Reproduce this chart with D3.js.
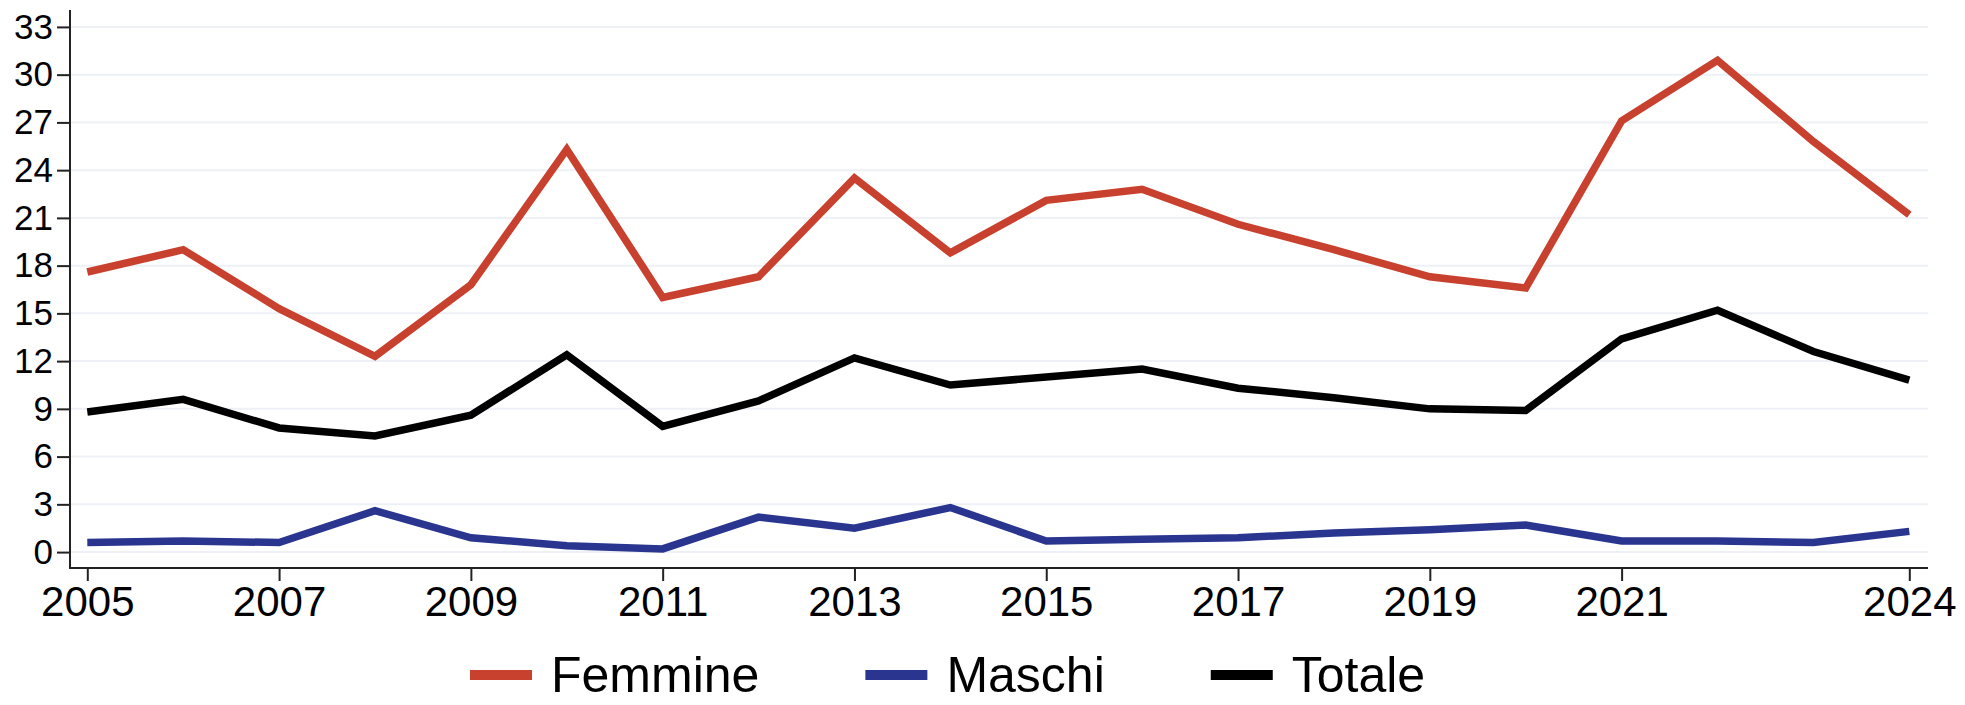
<!DOCTYPE html>
<html lang="it">
<head>
  <meta charset="UTF-8">
  <title>Femmine, Maschi, Totale 2005-2024</title>
  <script src="https://d3js.org/d3.v7.min.js"></script>
  <style>
    body {
      margin: 0;
      background-color: #fff;
    }
    .grid line {
      stroke: #edf1f6;
      stroke-width: 2px;
    }
    .axis text {
      font-family: "Liberation Sans", Arial, sans-serif;
      fill: #000;
    }
    .axis line, .axis-line {
      stroke: #222;
      stroke-width: 2px;
    }
    .serie {
      fill: none;
      stroke-width: 7.5px;
      stroke-linejoin: miter;
    }
    .legend text {
      font-family: "Liberation Sans", Arial, sans-serif;
      font-size: 50px;
      fill: #000;
    }
  </style>
</head>
<body>
  <svg id="chart" width="1965" height="705"></svg>

  <script>
    // Dati
    const anni = d3.range(2005, 2025);
    const femmine = [17.6, 19.0, 15.3, 12.3, 16.8, 25.3, 16.0, 17.3, 23.5, 18.8,
                     22.1, 22.8, 20.6, 19.0, 17.3, 16.6, 27.1, 30.9, 25.8, 21.2];
    const maschi = [0.6, 0.7, 0.6, 2.6, 0.9, 0.4, 0.2, 2.2, 1.5, 2.8,
                    0.7, 0.8, 0.9, 1.2, 1.4, 1.7, 0.7, 0.7, 0.6, 1.3];
    const totale = [8.8, 9.6, 7.8, 7.3, 8.6, 12.4, 7.9, 9.5, 12.2, 10.5,
                    11.0, 11.5, 10.3, 9.7, 9.0, 8.9, 13.4, 15.2, 12.6, 10.8];
    const xTicks = [2005, 2007, 2009, 2011, 2013, 2015, 2017, 2019, 2021, 2024];
    const yTicks = d3.range(0, 34, 3);

    const series = [
      { name: "Femmine", values: femmine, color: "#c8412f" },
      { name: "Maschi", values: maschi, color: "#29358f" },
      { name: "Totale", values: totale, color: "#000000" }
    ];

    const svg = d3.select("#chart");

    // area del grafico
    const plotLeft = 70, plotRight = 1928, plotTop = 11, plotBottom = 568;

    const x = d3.scaleLinear().domain([2005, 2024]).range([87.3, 1909.3]);
    const y = d3.scaleLinear().domain([-1, 34]).range([plotBottom, plotTop]);

    // griglia orizzontale
    svg.append("g")
      .attr("class", "grid")
      .selectAll("line")
      .data(yTicks)
      .enter()
      .append("line")
      .attr("x1", plotLeft + 1)
      .attr("x2", plotRight)
      .attr("y1", d => y(d))
      .attr("y2", d => y(d));

    // asse x
    const xAxis = svg.append("g")
      .attr("class", "axis")
      .attr("transform", `translate(0,${plotBottom})`)
      .call(d3.axisBottom(x).tickValues(xTicks).tickFormat(d3.format("d"))
        .tickSize(13).tickPadding(4).tickSizeOuter(0));
    xAxis.select(".domain").remove();
    xAxis.selectAll("text").style("font-size", "42px").attr("dy", "0.74em");

    // asse y
    const yAxis = svg.append("g")
      .attr("class", "axis")
      .attr("transform", `translate(${plotLeft},0)`)
      .call(d3.axisLeft(y).tickValues(yTicks).tickSize(13).tickPadding(4).tickSizeOuter(0));
    yAxis.select(".domain").remove();
    yAxis.selectAll("text").style("font-size", "35px");

    svg.append("line").attr("class", "axis-line")
      .attr("x1", plotLeft).attr("x2", plotLeft).attr("y1", plotTop - 1).attr("y2", plotBottom + 1);
    svg.append("line").attr("class", "axis-line")
      .attr("x1", plotLeft).attr("x2", plotRight).attr("y1", plotBottom).attr("y2", plotBottom);

    // linee
    const line = d3.line()
      .x((d, i) => x(anni[i]))
      .y(d => y(d));

    svg.selectAll(".serie")
      .data(series)
      .enter()
      .append("path")
      .attr("class", "serie")
      .attr("stroke", d => d.color)
      .attr("d", d => line(d.values));

    // legenda
    const legend = svg.append("g").attr("class", "legend");
    let lx = 470;
    series.forEach(s => {
      const g = legend.append("g").attr("transform", `translate(${lx},0)`);
      g.append("rect")
        .attr("x", 0).attr("y", 670)
        .attr("width", 62).attr("height", 10)
        .attr("fill", s.color);
      const t = g.append("text")
        .attr("x", 81).attr("y", 692)
        .text(s.name);
      lx += 81 + t.node().getComputedTextLength() + 106;
    });
  </script>
</body>
</html>
